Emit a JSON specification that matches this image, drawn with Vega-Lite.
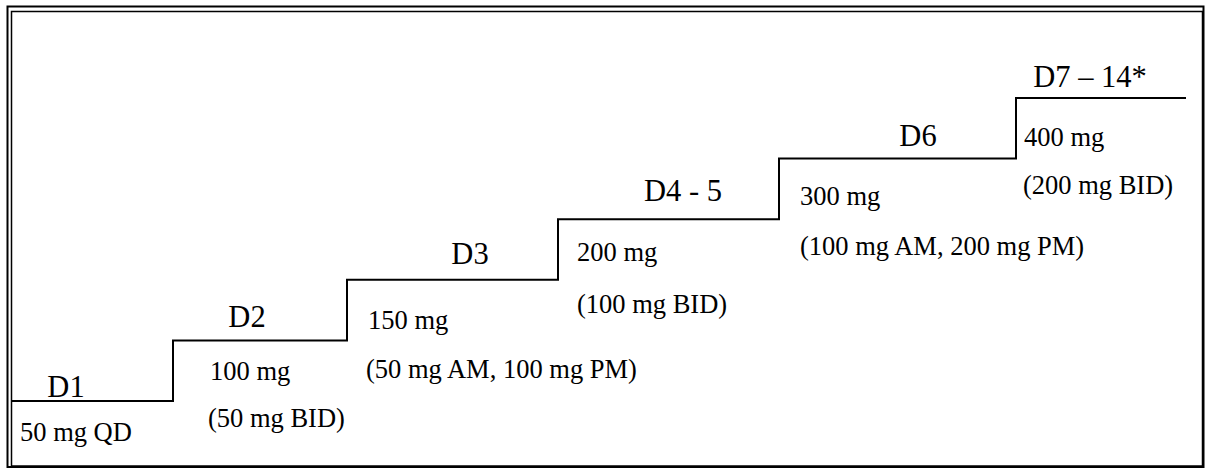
{
  "$schema": "https://vega.github.io/schema/vega-lite/v6.json",
  "width": 1205,
  "height": 469,
  "autosize": {"type": "fit", "contains": "padding"},
  "padding": 0,
  "background": "white",
  "config": {"view": {"stroke": null}},
  "datasets": {
    "frame": [
      {"part": "outer", "x0": 7.5, "x1": 1203.5, "y0": -0.089, "y1": 7.51},
      {"part": "inner", "x0": 11.5, "x1": 1202.5, "y0": -0.073, "y1": 7.427}
    ],
    "steps": [
      {"pos": 11, "level": 1, "dose": 50},
      {"pos": 173, "level": 2, "dose": 100},
      {"pos": 347, "level": 3, "dose": 150},
      {"pos": 558, "level": 4, "dose": 200},
      {"pos": 779, "level": 5, "dose": 300},
      {"pos": 1016, "level": 6, "dose": 400},
      {"pos": 1186, "level": 6, "dose": 400}
    ],
    "days": [
      {"label": "D1", "pos": 66, "level": 1.066},
      {"label": "D2", "pos": 247, "level": 2.221},
      {"label": "D3", "pos": 470, "level": 3.261},
      {"label": "D4 - 5", "pos": 683, "level": 4.3},
      {"label": "D6", "pos": 918, "level": 5.208},
      {"label": "D7 – 14*", "pos": 1090, "level": 6.181}
    ],
    "doses": [
      {"label": "50 mg QD", "pos": 20, "level": 0.34},
      {"label": "100 mg", "pos": 210, "level": 1.347},
      {"label": "(50 mg BID)", "pos": 208, "level": 0.571},
      {"label": "150 mg", "pos": 368, "level": 2.188},
      {"label": "(50 mg AM, 100 mg PM)", "pos": 366, "level": 1.38},
      {"label": "200 mg", "pos": 577, "level": 3.31},
      {"label": "(100 mg BID)", "pos": 577, "level": 2.452},
      {"label": "300 mg", "pos": 800, "level": 4.234},
      {"label": "(100 mg AM, 200 mg PM)", "pos": 800, "level": 3.409},
      {"label": "400 mg", "pos": 1024, "level": 5.208},
      {"label": "(200 mg BID)", "pos": 1023, "level": 4.416}
    ]
  },
  "layer": [
    {
      "data": {"name": "frame"},
      "transform": [{"filter": "datum.part === 'outer'"}],
      "mark": {"type": "rect", "fill": null, "stroke": "black", "strokeWidth": 2},
      "encoding": {
        "x": {"field": "x0", "type": "quantitative", "scale": {"domain": [0, 1205], "nice": false, "zero": false}, "axis": null},
        "x2": {"field": "x1"},
        "y": {"field": "y0", "type": "quantitative", "scale": {"domain": [-0.122, 7.617], "nice": false, "zero": false}, "axis": null},
        "y2": {"field": "y1"}
      }
    },
    {
      "data": {"name": "frame"},
      "transform": [{"filter": "datum.part === 'inner'"}],
      "mark": {"type": "rect", "fill": null, "stroke": "black", "strokeWidth": 1.5},
      "encoding": {
        "x": {"field": "x0", "type": "quantitative"},
        "x2": {"field": "x1"},
        "y": {"field": "y0", "type": "quantitative"},
        "y2": {"field": "y1"}
      }
    },
    {
      "data": {"name": "steps"},
      "mark": {"type": "line", "interpolate": "step-after", "color": "black", "strokeWidth": 2},
      "encoding": {
        "x": {"field": "pos", "type": "quantitative"},
        "y": {"field": "level", "type": "quantitative"}
      }
    },
    {
      "data": {"name": "days"},
      "mark": {"type": "text", "font": "Liberation Serif", "fontSize": 30.5, "align": "center", "baseline": "alphabetic", "color": "black"},
      "encoding": {
        "x": {"field": "pos", "type": "quantitative"},
        "y": {"field": "level", "type": "quantitative"},
        "text": {"field": "label"}
      }
    },
    {
      "data": {"name": "doses"},
      "mark": {"type": "text", "font": "Liberation Serif", "fontSize": 26.5, "align": "left", "baseline": "alphabetic", "color": "black"},
      "encoding": {
        "x": {"field": "pos", "type": "quantitative"},
        "y": {"field": "level", "type": "quantitative"},
        "text": {"field": "label"}
      }
    }
  ]
}
